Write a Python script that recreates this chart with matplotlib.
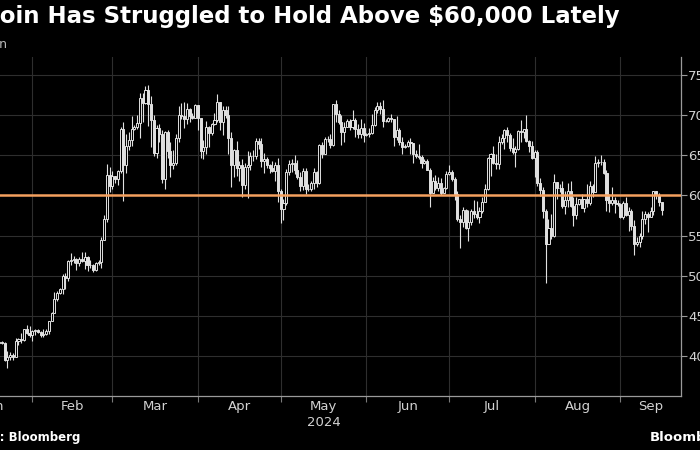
import matplotlib
matplotlib.use('Agg')
import matplotlib.pyplot as plt
import matplotlib.dates as mdates
import numpy as np
import pandas as pd

# daily Bitcoin candles, $ thousands, from 2024-01-18 to 2024-09-16
start_date = '2024-01-18'
first_open = 42.7

close = [
    # Jan 18-31
    41.3, 41.6, 41.7, 41.6, 39.5, 39.8, 40.1, 39.9, 41.8, 42.1, 42.0, 43.3, 42.9, 42.6,
    # Feb
    43.1, 43.2, 43.0, 42.6, 42.7, 43.1, 44.3, 45.3, 47.1, 47.8, 48.3, 50.0, 49.7, 51.8, 52.0,
    52.1, 51.6, 52.1, 51.8, 52.3, 51.3, 51.3, 50.7, 51.6, 51.7, 54.5, 57.1, 62.5, 61.2,
    # Mar
    62.4, 62.0, 63.1, 68.3, 63.8, 66.1, 66.9, 68.3, 68.5, 69.0, 72.1, 71.5, 73.1, 71.4, 69.4, 65.3,
    68.4, 67.6, 62.0, 67.9, 65.5, 63.8, 64.0, 67.2, 70.0, 69.9, 69.5, 70.8, 69.9, 69.7, 71.3,
    # Apr
    69.6, 65.5, 66.0, 68.5, 67.8, 68.9, 69.4, 71.6, 69.1, 70.6, 70.0, 67.2, 63.8, 65.7, 63.4,
    63.8, 61.3, 63.5, 63.8, 64.9, 64.9, 66.8, 66.4, 64.3, 64.5, 63.8, 63.4, 63.1, 63.8, 60.6,
    # May
    58.3, 59.1, 62.9, 63.9, 64.0, 63.2, 62.3, 61.2, 63.1, 60.8, 60.8, 61.5, 62.9, 61.6, 66.3, 65.2,
    67.0, 67.0, 66.3, 71.4, 70.1, 69.1, 67.9, 68.5, 69.3, 68.5, 69.4, 68.3, 67.6, 68.4, 67.5,
    # Jun
    67.7, 67.8, 68.8, 70.6, 71.1, 70.8, 69.3, 69.3, 69.6, 69.5, 67.3, 68.2, 66.7, 66.0, 66.2,
    66.6, 66.5, 65.2, 64.9, 64.8, 64.1, 64.3, 63.2, 60.3, 61.8, 60.9, 61.6, 60.3, 60.9, 62.7,
    # Jul
    62.9, 62.0, 60.2, 57.0, 56.7, 58.2, 55.9, 56.7, 58.0, 57.7, 57.3, 58.0, 59.2, 60.8, 64.7, 65.1,
    64.1, 63.9, 66.7, 67.1, 68.2, 67.5, 65.9, 65.4, 65.8, 68.0, 67.9, 68.3, 66.8, 66.2, 64.6,
    # Aug
    65.4, 61.5, 60.7, 58.1, 54.0, 56.0, 55.0, 61.7, 60.9, 60.9, 58.7, 59.4, 60.6, 58.7, 57.6, 58.9,
    59.5, 58.4, 59.5, 59.0, 61.2, 60.4, 64.1, 64.2, 64.2, 62.8, 59.4, 59.0, 59.4, 59.1, 58.9,
    # Sep 1-16
    57.3, 59.1, 57.5, 58.0, 56.2, 53.9, 54.2, 54.9, 57.0, 57.7, 57.3, 58.1, 60.6, 60.0, 59.2, 58.2,
]

high = [
    42.9, 42.2, 41.9, 41.9, 41.7, 40.6, 40.5, 40.3, 42.2, 42.2, 42.8, 43.3, 43.8, 43.7,
    43.2, 43.4, 43.3, 43.1, 43.4, 43.3, 44.3, 45.5, 48.0, 48.1, 48.5, 50.2, 50.3, 52.0, 52.8,
    52.5, 52.2, 52.3, 52.9, 52.9, 52.4, 52.0, 51.5, 51.7, 51.9, 54.8, 57.5, 63.9, 63.6,
    63.1, 62.4, 63.2, 68.5, 69.2, 67.6, 67.9, 69.9, 68.8, 70.0, 72.8, 72.8, 73.6, 73.8, 72.4, 70.0,
    68.8, 68.9, 68.1, 68.0, 68.2, 66.6, 65.7, 67.6, 71.2, 71.5, 71.7, 71.5, 70.9, 70.3, 71.4,
    71.3, 69.6, 66.9, 69.3, 68.7, 69.0, 70.3, 72.7, 71.7, 71.1, 71.2, 71.2, 67.9, 65.8, 66.8,
    64.3, 64.5, 64.1, 65.5, 65.4, 65.7, 67.2, 67.2, 67.1, 65.3, 64.8, 63.9, 64.3, 64.2, 64.7,
    60.8, 59.6, 63.3, 64.4, 64.5, 65.0, 64.4, 62.9, 63.4, 63.4, 61.4, 61.8, 63.4, 63.1, 66.4, 66.7,
    67.3, 67.4, 67.7, 71.4, 71.9, 70.6, 70.0, 69.2, 69.5, 69.5, 70.6, 69.6, 68.9, 69.5, 69.0,
    67.8, 68.4, 70.2, 71.0, 71.7, 71.6, 71.9, 69.5, 69.8, 70.1, 69.5, 69.9, 68.4, 67.3, 66.4,
    66.9, 67.2, 66.5, 65.7, 66.4, 65.0, 64.5, 64.5, 63.4, 62.3, 62.5, 62.3, 62.2, 61.1, 63.0,
    63.8, 63.2, 62.3, 60.5, 57.5, 58.5, 58.3, 58.2, 58.3, 59.4, 59.3, 58.5, 59.8, 61.4, 64.8, 65.3,
    66.1, 65.1, 67.4, 67.6, 68.3, 68.5, 67.8, 67.1, 66.1, 68.2, 69.4, 68.3, 70.0, 66.9, 66.8,
    65.6, 65.6, 62.2, 61.1, 58.3, 57.0, 57.7, 62.7, 61.7, 61.4, 61.8, 60.6, 61.5, 61.8, 59.8, 59.8,
    59.6, 60.2, 59.6, 61.4, 61.8, 61.4, 64.9, 64.5, 65.0, 64.5, 63.2, 60.2, 61.1, 59.8, 59.4,
    59.0, 59.3, 59.8, 58.5, 58.3, 56.9, 54.8, 55.3, 58.0, 58.0, 57.9, 58.6, 60.6, 60.6, 60.3, 59.2,
]

low = [
    40.7, 40.3, 41.5, 41.5, 39.4, 38.5, 39.5, 39.5, 39.8, 41.4, 41.6, 41.8, 42.7, 42.3,
    41.9, 42.6, 42.9, 42.3, 42.3, 42.6, 42.7, 44.3, 45.3, 46.8, 47.7, 47.7, 48.3, 49.3, 51.3,
    51.6, 50.7, 51.2, 51.7, 50.8, 50.6, 50.9, 50.5, 50.6, 51.3, 50.9, 54.4, 56.7, 60.4,
    60.8, 61.6, 61.3, 62.8, 59.3, 62.8, 65.7, 66.2, 68.1, 68.3, 67.2, 69.2, 71.4, 68.6, 66.0, 64.9,
    64.6, 66.6, 61.6, 60.8, 64.6, 62.3, 63.3, 63.8, 66.6, 69.5, 68.4, 68.9, 69.1, 69.5, 69.6,
    68.2, 64.6, 64.5, 65.1, 66.0, 67.5, 68.8, 69.1, 68.2, 67.5, 69.6, 65.1, 61.0, 62.3, 62.4,
    61.8, 59.8, 60.8, 59.7, 63.2, 64.3, 64.5, 65.8, 63.6, 62.8, 63.4, 62.8, 62.9, 61.8, 59.2,
    56.6, 56.9, 58.8, 62.6, 62.9, 62.7, 62.1, 60.6, 60.7, 60.2, 60.6, 60.6, 60.8, 61.1, 61.4, 64.6,
    65.1, 66.6, 65.9, 66.2, 69.2, 68.9, 66.3, 66.7, 68.5, 68.2, 68.3, 67.3, 67.1, 67.2, 66.7,
    67.4, 67.3, 67.6, 68.6, 70.3, 70.2, 68.5, 69.2, 69.1, 69.2, 66.1, 66.9, 66.3, 65.1, 65.9,
    66.0, 65.1, 64.1, 64.7, 64.5, 63.4, 63.9, 63.2, 58.5, 60.3, 60.7, 60.6, 60.0, 60.3, 60.8,
    62.5, 61.8, 59.4, 56.8, 53.5, 56.1, 55.8, 54.3, 56.3, 57.2, 57.0, 56.6, 57.8, 59.2, 60.7, 62.4,
    63.9, 63.3, 63.3, 66.4, 65.8, 66.6, 65.5, 65.1, 63.5, 65.7, 66.7, 67.1, 66.6, 65.4, 64.5,
    62.3, 61.2, 59.9, 57.2, 49.1, 54.0, 54.6, 54.8, 59.6, 60.4, 58.4, 57.7, 58.5, 58.5, 56.2, 57.1,
    58.8, 58.4, 57.9, 58.6, 58.8, 59.8, 60.4, 63.6, 63.8, 62.7, 58.1, 57.9, 58.8, 57.8, 58.7,
    57.2, 57.1, 57.4, 55.6, 55.7, 52.6, 53.7, 53.6, 54.6, 56.4, 55.5, 57.3, 57.6, 59.5, 58.7, 57.5,
]

threshold = 60
y_ticks = [40, 45, 50, 55, 60, 65, 70, 75]
y_labels = ['40K', '45K', '50K', '55K', '60K', '65K', '70K', '75K']

W, H = 700, 450
BG = 'black'
CANDLE = '#e0e0e0'
TEXT = '#d2d2d2'
GRID = '#2e2e2e'


def px_rect(x0, y0, x1, y1):
    return [x0 / W, 1 - y1 / H, (x1 - x0) / W, (y1 - y0) / H]


def cut_text(fig, full, hidden, x, y, **kw):
    # place full text so the hidden prefix falls off the left edge
    t = fig.text(0, y, hidden, **kw)
    w = t.get_window_extent(renderer=fig.canvas.get_renderer()).width
    t.set_text(full)
    t.set_x(x - w / W)
    return t


def main():
    c = np.array(close)
    o = np.concatenate([[first_open], c[:-1]])
    hi = np.array(high)
    lo = np.array(low)
    dates = pd.date_range(start_date, periods=len(c), freq='D')
    x = mdates.date2num(dates)
    up = c >= o

    fig = plt.figure(figsize=(7, 4.5), dpi=100, facecolor=BG)
    ax = fig.add_axes(px_rect(-45, 57, 681, 396))
    ax.set_facecolor(BG)

    ax.vlines(x, lo, hi, color=CANDLE, lw=0.8, zorder=2)
    ax.bar(x[up], (c - o)[up], bottom=o[up], width=0.75, facecolor=BG,
           edgecolor=CANDLE, lw=0.7, zorder=3)
    ax.bar(x[~up], (c - o)[~up], bottom=o[~up], width=0.75, facecolor=CANDLE,
           edgecolor=CANDLE, lw=0.7, zorder=3)
    ax.axhline(threshold, color='#f4a05e', lw=1.8, zorder=4)

    x0 = mdates.date2num(pd.Timestamp('2024-01-04'))
    x1 = mdates.date2num(pd.Timestamp('2024-09-23'))
    ax.set_xlim(x0, x1)
    ax.set_ylim(35, 77.25)

    # y axis on the right
    ax.yaxis.tick_right()
    ax.set_yticks(y_ticks)
    ax.set_yticklabels(y_labels)
    ax.tick_params(axis='y', which='major', length=4, width=0.8, color='#9a9a9a',
                   labelcolor=TEXT, labelsize=9.5, pad=1)

    # month boundaries as major ticks, month names centred in between
    starts = pd.date_range('2024-01-01', '2024-10-01', freq='MS')
    bounds = mdates.date2num(starts)
    ax.set_xticks([b for b in bounds if x0 < b < x1])
    ax.set_xticklabels([])
    mids, names = [], []
    for a, b, s in zip(bounds[:-1], bounds[1:], starts[:-1]):
        lo_b, hi_b = max(a, x0), min(b, x1)
        if hi_b > lo_b:
            mids.append((lo_b + hi_b) / 2)
            names.append(s.strftime('%b'))
    ax.set_xticks(mids, minor=True)
    ax.set_xticklabels(names, minor=True)
    ax.tick_params(axis='x', which='major', length=4, width=0.8, color='#7a7a7a')
    ax.tick_params(axis='x', which='minor', length=0, labelcolor=TEXT, labelsize=9.5, pad=3)
    may = mids[names.index('May')]
    ax.text(may, -0.058, '2024', transform=ax.get_xaxis_transform(), ha='center',
            va='top', color=TEXT, fontsize=9.5)

    ax.grid(True, which='major', color=GRID, lw=0.8, zorder=0)
    ax.set_axisbelow(True)
    for side in ['top', 'left']:
        ax.spines[side].set_visible(False)
    for side in ['right', 'bottom']:
        ax.spines[side].set_color('#9a9a9a')
        ax.spines[side].set_linewidth(0.9)

    cut_text(fig, 'Bitcoin Has Struggled to Hold Above $60,000 Lately', 'Bitc',
             0, 1 - 17 / H, color='white', fontsize=16.5, fontweight='bold', va='center')
    cut_text(fig, 'Bitcoin', 'Bitcoi', 0, 1 - 45 / H, color='#b8b8b8', fontsize=9, va='center')
    cut_text(fig, 'Source: Bloomberg', 'Source', 0, 1 - 438 / H, color='white',
             fontsize=8.5, fontweight='bold', va='center')
    fig.text(650 / W, 1 - 438 / H, 'Bloomberg', color='white', fontsize=9.5,
             fontweight='bold', va='center')

    fig.savefig('out.png', dpi=100, facecolor=BG)


if __name__ == '__main__':
    main()
